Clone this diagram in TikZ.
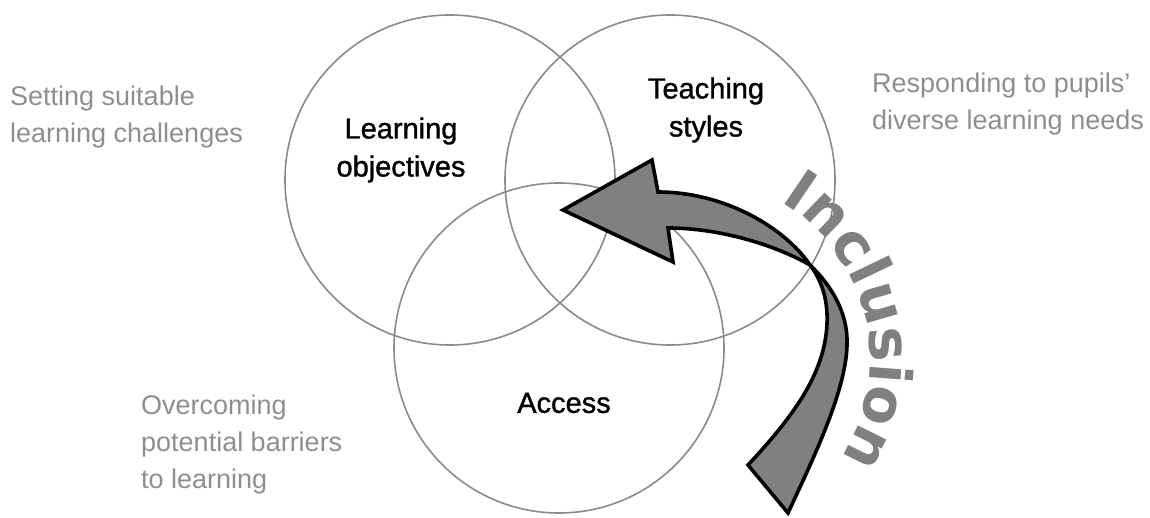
\documentclass[tikz,border=0pt]{standalone}
\usepackage{fontspec}
\setmainfont{Liberation Sans}
\newfontfamily\incfont{DejaVu Sans}
\newfontfamily\medfont{Liberation Sans}[FakeBold=1.2]
\usepackage{xcolor}
\usepackage{tikz}
\usetikzlibrary{decorations.text}

\definecolor{ringgray}{HTML}{8A8A8A}
\definecolor{sidegray}{HTML}{8E8E8E}
\definecolor{arrowgray}{HTML}{808080}

\begin{document}
\begin{tikzpicture}[
  x=1pt, y=1pt,
  ring/.style={circle, draw=ringgray, line width=1.6pt, minimum size=330pt, inner sep=0pt},
  topic/.style={align=center, inner sep=0pt, font=\medfont\fontsize{29}{38}\selectfont},
  aside/.style={align=left, anchor=west, inner sep=0pt, text=sidegray, font=\fontsize{27}{37}\selectfont},
  bigarrow/.style={draw=black, line width=3.6pt, fill=arrowgray, line join=miter, miter limit=12}
]
\useasboundingbox (0,0) rectangle (1150,517);

\node[ring] (objring) at (450,337) {};
\node[ring] (stylering) at (670,337) {};
\node[ring] (accessring) at (559,169) {};

\node[topic] (objectives) at (401,367) {Learning\\objectives};
\node[topic] (styles) at (706,407) {Teaching\\styles};
\node[topic] (access) at (564,114) {Access};

\node[aside] (challenges) at (10,400) {Setting suitable\\learning challenges};
\node[aside] (needs) at (872,413) {Responding to pupils'\\diverse learning needs};
\node[aside] (barriers) at (141,72) {Overcoming\\potential barriers\\to learning};

% twisted arrow pointing into the centre
\filldraw[bigarrow] (563,307) -- (652,357) -- (658,325)
  .. controls (725,325) and (785,289) .. (810,252)
  .. controls (838,225) and (848,197) .. (847,172)
  .. controls (846,127) and (815,62) .. (788,4)
  -- (748,52)
  .. controls (790,97) and (820,137) .. (826,182)
  .. controls (830,212) and (823,235) .. (810,252)
  .. controls (775,272) and (720,289) .. (668,289)
  -- (673,255) -- cycle;

\path[decorate, decoration={text along path, text align=center,
  text={|\incfont\bfseries\fontsize{58}{58}\selectfont\color{arrowgray}|Inclusion}}]
  (687,158) ++(73.2:183) arc[start angle=73.2, end angle=-46.8, radius=183];
\end{tikzpicture}
\end{document}
